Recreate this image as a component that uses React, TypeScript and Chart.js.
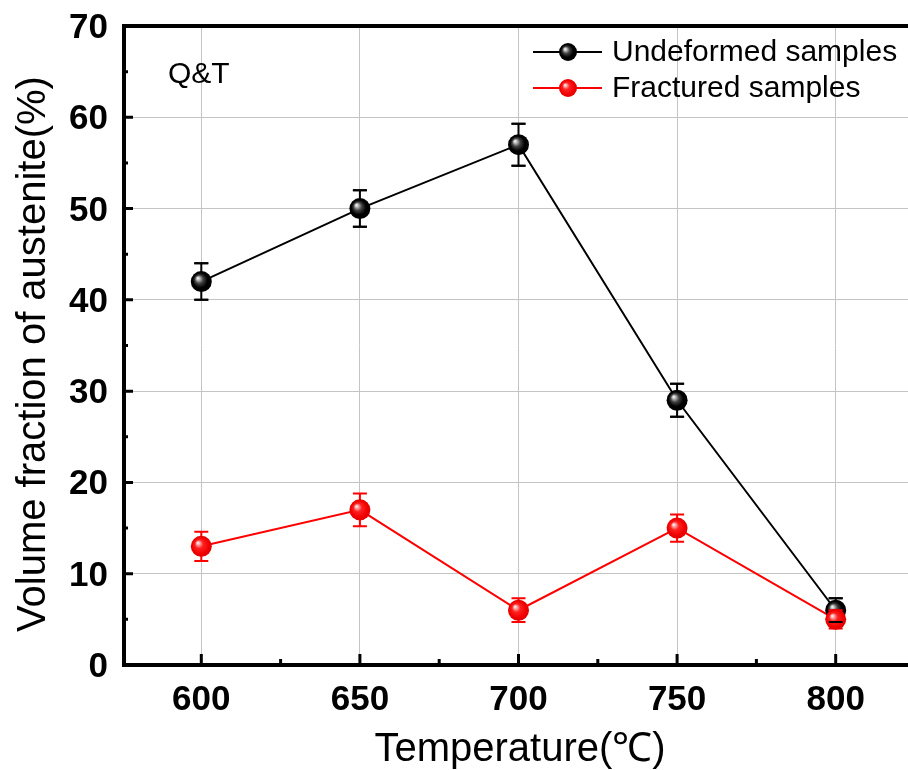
import React, { useEffect, useRef } from "react";
import { Chart, registerables } from "chart.js";

Chart.register(...registerables);

const temperatures = [600, 650, 700, 750, 800];
const undeformed = [42, 50, 57, 29, 6];
const undeformedErr = [2, 2, 2.3, 1.8, 1.3];
const fractured = [13, 17, 6, 15, 5];
const fracturedErr = [1.6, 1.8, 1.3, 1.5, 1.0];
const xTicks = [600, 650, 700, 750, 800];
const yTicks = [0, 10, 20, 30, 40, 50, 60, 70];
const seriesNames = ["Undeformed samples", "Fractured samples"];
const seriesColors = ["#000000", "#ff0000"];

function sphere(ctx: CanvasRenderingContext2D, x: number, y: number, r: number, color: string) {
  const g = ctx.createRadialGradient(x - 0.35 * r, y - 0.35 * r, 0, x, y, r);
  if (color === "#000000") {
    g.addColorStop(0, "#ffffff");
    g.addColorStop(0.12, "#d0d0d0");
    g.addColorStop(0.4, "#404040");
    g.addColorStop(0.7, "#000000");
    g.addColorStop(1, "#000000");
  } else {
    g.addColorStop(0, "#ffffff");
    g.addColorStop(0.12, "#ffc0c0");
    g.addColorStop(0.4, "#ff2020");
    g.addColorStop(0.8, "#f00000");
    g.addColorStop(1, "#e00000");
  }
  ctx.beginPath();
  ctx.arc(x, y, r, 0, Math.PI * 2);
  ctx.fillStyle = g;
  ctx.fill();
}

const decorPlugin = {
  id: "decor",
  afterDatasetsDraw(chart: any) {
    const ctx: CanvasRenderingContext2D = chart.ctx;
    const xs = chart.scales.x;
    const ys = chart.scales.y;
    const all = [
      { vals: undeformed, errs: undeformedErr, color: seriesColors[0] },
      { vals: fractured, errs: fracturedErr, color: seriesColors[1] },
    ];
    ctx.save();
    const drawErr = (s: any, capsOnly: boolean) => {
      ctx.strokeStyle = s.color;
      ctx.lineWidth = 2;
      s.vals.forEach((v: number, i: number) => {
        const px = xs.getPixelForValue(temperatures[i]);
        const top = ys.getPixelForValue(v + s.errs[i]);
        const bot = ys.getPixelForValue(v - s.errs[i]);
        ctx.beginPath();
        if (!capsOnly) {
          ctx.moveTo(px, top);
          ctx.lineTo(px, bot);
        }
        ctx.moveTo(px - 7, top);
        ctx.lineTo(px + 7, top);
        ctx.moveTo(px - 7, bot);
        ctx.lineTo(px + 7, bot);
        ctx.stroke();
      });
    };
    all.forEach((s) => {
      drawErr(s, false);
      s.vals.forEach((v: number, i: number) => {
        sphere(ctx, xs.getPixelForValue(temperatures[i]), ys.getPixelForValue(v), 10.5, s.color);
      });
    });
    drawErr(all[0], true);
    ctx.restore();
  },
  afterDraw(chart: any) {
    const ctx: CanvasRenderingContext2D = chart.ctx;
    const a = chart.chartArea;
    const xs = chart.scales.x;
    const ys = chart.scales.y;
    ctx.save();
    // inward ticks
    ctx.strokeStyle = "#000";
    ctx.lineWidth = 3;
    ctx.beginPath();
    for (let v = 600; v <= 800; v += 25) {
      const px = xs.getPixelForValue(v);
      const len = v % 50 === 0 ? 11 : 6;
      ctx.moveTo(px, a.bottom);
      ctx.lineTo(px, a.bottom - len);
    }
    for (let v = 0; v <= 70; v += 5) {
      const py = ys.getPixelForValue(v);
      const len = v % 10 === 0 ? 11 : 6;
      ctx.moveTo(a.left, py);
      ctx.lineTo(a.left + len, py);
    }
    ctx.stroke();
    // frame
    ctx.lineWidth = 4;
    ctx.strokeRect(a.left + 2, a.top, a.right - a.left, a.bottom - a.top);
    // y tick labels
    ctx.fillStyle = "#000";
    ctx.font = "bold 35px 'Liberation Sans', Arial, sans-serif";
    ctx.textAlign = "right";
    ctx.textBaseline = "alphabetic";
    yTicks.forEach((v) => {
      ctx.fillText(String(v), 108, ys.getPixelForValue(v) + 12);
    });
    // Q&T label
    ctx.font = "30px 'Liberation Sans', Arial, sans-serif";
    ctx.textAlign = "left";
    ctx.fillText("Q&T", 168, 83);
    // legend
    const rows = [52, 88];
    rows.forEach((ry, i) => {
      ctx.strokeStyle = seriesColors[i];
      ctx.lineWidth = 2;
      ctx.beginPath();
      ctx.moveTo(533, ry);
      ctx.lineTo(602, ry);
      ctx.stroke();
      sphere(ctx, 568, ry, 9, seriesColors[i]);
      ctx.fillStyle = "#000";
      ctx.font = "30px 'Liberation Sans', Arial, sans-serif";
      ctx.textBaseline = "middle";
      ctx.fillText(seriesNames[i], 612, ry + 1);
    });
    // axis titles
    ctx.font = "40px 'Liberation Sans', Arial, sans-serif";
    ctx.textAlign = "center";
    ctx.textBaseline = "alphabetic";
    ctx.fillText("Temperature(℃)", 520, 761);
    ctx.save();
    ctx.translate(45, 354);
    ctx.rotate(-Math.PI / 2);
    ctx.fillText("Volume fraction of austenite(%)", 0, 0);
    ctx.restore();
    ctx.restore();
  },
};

export default function App() {
  const ref = useRef<HTMLCanvasElement>(null);
  useEffect(() => {
    if (!ref.current) return;
    const chart = new Chart(ref.current, {
      type: "line",
      data: {
        datasets: [
          {
            label: seriesNames[0],
            data: temperatures.map((t, i) => ({ x: t, y: undeformed[i] })),
            borderColor: seriesColors[0],
            borderWidth: 2,
            pointRadius: 0,
            tension: 0,
          },
          {
            label: seriesNames[1],
            data: temperatures.map((t, i) => ({ x: t, y: fractured[i] })),
            borderColor: seriesColors[1],
            borderWidth: 2,
            pointRadius: 0,
            tension: 0,
          },
        ],
      },
      options: {
        responsive: false,
        animation: false,
        layout: { padding: { top: 26, right: 2, left: 0, bottom: 0 } },
        plugins: { legend: { display: false }, tooltip: { enabled: false } },
        scales: {
          x: {
            type: "linear",
            min: 575,
            max: 825,
            afterBuildTicks: (s: any) => {
              s.ticks = xTicks.map((v) => ({ value: v }));
            },
            afterFit: (s: any) => {
              s.height = 105;
            },
            grid: { color: "#c4c4c4", lineWidth: 1, drawTicks: false },
            border: { display: false },
            ticks: {
              color: "#000",
              padding: 14,
              font: { family: "'Liberation Sans', Arial, sans-serif", size: 35, weight: "bold" },
            },
          },
          y: {
            type: "linear",
            min: 0,
            max: 70,
            afterBuildTicks: (s: any) => {
              s.ticks = yTicks.map((v) => ({ value: v }));
            },
            afterFit: (s: any) => {
              s.width = 122;
            },
            grid: { color: "#c4c4c4", lineWidth: 1, drawTicks: false },
            border: { display: false },
            ticks: { display: false },
          },
        },
      },
      plugins: [decorPlugin],
    } as any);
    return () => chart.destroy();
  }, []);
  return (
    <div style={{ position: "absolute", left: 0, top: 0, width: 908, height: 770, overflow: "hidden", background: "#fff" }}>
      <canvas ref={ref} width={917} height={770} style={{ width: 917, height: 770, display: "block" }} />
    </div>
  );
}
